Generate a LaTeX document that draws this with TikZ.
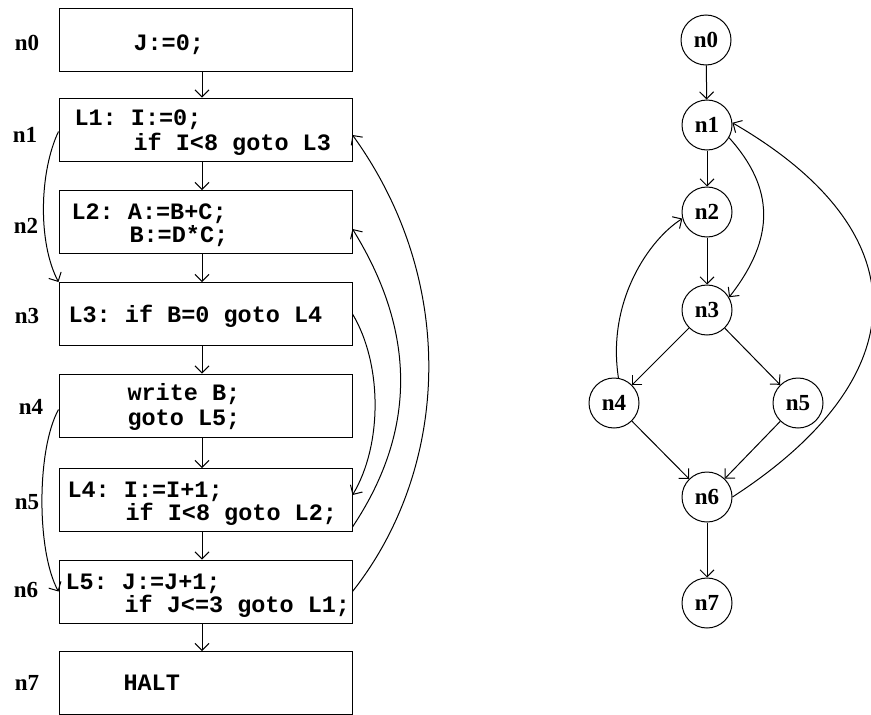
\documentclass[tikz,border=0pt]{standalone}
\usepackage{fontspec}
\setmainfont{Liberation Serif}
\setmonofont{Liberation Mono}
\usetikzlibrary{arrows.meta}
\begin{document}
\begin{tikzpicture}[x=1pt,y=-1pt, line width=1pt,
  >={Straight Barb[length=7pt,width=14pt]},
  blk/.style={draw, rectangle, minimum width=293pt, minimum height=63pt, inner sep=0pt},
  code/.style={anchor=base west, inner sep=0pt, font=\ttfamily\bfseries\fontsize{23.5}{25}\selectfont},
  lab/.style={font=\bfseries\fontsize{23}{25}\selectfont, inner sep=0pt},
  cir/.style={draw, circle, minimum size=50pt, inner sep=0pt, font=\bfseries\fontsize{23}{25}\selectfont},
  flow/.style={->}
]
\useasboundingbox (0,0) rectangle (871,715);

% ---- left: code blocks ----
\node[blk] (b0) at (205.5,39.5) {};
\node[blk] (b1) at (205.5,129.5) {};
\node[blk] (b2) at (205.5,222) {};
\node[blk] (b3) at (205.5,314) {};
\node[blk] (b4) at (205.5,405.5) {};
\node[blk] (b5) at (205.5,500) {};
\node[blk] (b6) at (205.5,591.5) {};
\node[blk] (b7) at (205.5,683) {};

\node[code] (t0)  at (133,50)  {J:=0;};
\node[code] (t1a) at (74,125)  {L1: I:=0;};
\node[code] (t1b) at (133,150) {if I<8 goto L3};
\node[code] (t2a) at (71,219)  {L2: A:=B+C;};
\node[code] (t2b) at (129,242) {B:=D*C;};
\node[code] (t3)  at (68,322)  {L3: if B=0 goto L4};
\node[code] (t4a) at (127,400) {write B;};
\node[code] (t4b) at (127,425) {goto L5;};
\node[code] (t5a) at (67,497)  {L4: I:=I+1;};
\node[code] (t5b) at (125,520) {if I<8 goto L2;};
\node[code] (t6a) at (65,589)  {L5: J:=J+1;};
\node[code] (t6b) at (124,612) {if J<=3 goto L1;};
\node[code] (t7)  at (123,690) {HALT};

\node[lab] (l0) at (27,43)  {n0};
\node[lab] (l1) at (25,135) {n1};
\node[lab] (l2) at (26,226) {n2};
\node[lab] (l3) at (27,316) {n3};
\node[lab] (l4) at (31,407) {n4};
\node[lab] (l5) at (27,502) {n5};
\node[lab] (l6) at (26,590) {n6};
\node[lab] (l7) at (27,683) {n7};

\foreach \a/\b in {b0/b1,b1/b2,b2/b3,b3/b4,b4/b5,b5/b6,b6/b7}
  \draw[flow] ([xshift=-3.5pt]\a.south) -- ([xshift=-3.5pt]\b.north);

% left-side jumps
\draw[flow] ([yshift=-2pt]b1.west) .. controls +(-19,40) and +(-21,-40) .. (b3.north west);
\draw[flow] ([yshift=-4pt]b4.west) .. controls +(-22,40) and +(-22,-40) .. (b6.west);
% right-side jumps
\draw[flow] (b3.east) .. controls +(30,50) and +(30,-50) .. ([yshift=5pt]b5.east);
\draw[flow] ([yshift=5pt]b5.south east) .. controls +(60,-90) and +(68,110) .. ([yshift=-7pt]b2.east);
\draw[flow] (b6.east) .. controls +(95,-120) and +(108,150) .. ([yshift=-5.5pt]b1.east);

% ---- right: flow graph ----
\node[cir] (c0) at (706,40)  {n0};
\node[cir] (c1) at (707,125) {n1};
\node[cir] (c2) at (707,212) {n2};
\node[cir] (c3) at (707,310) {n3};
\node[cir] (c4) at (614,403) {n4};
\node[cir] (c5) at (798,403) {n5};
\node[cir] (c6) at (707,497) {n6};
\node[cir] (c7) at (707,603) {n7};

\foreach \a/\b in {c0/c1,c1/c2,c2/c3,c3/c4,c3/c5,c4/c6,c5/c6,c6/c7}
  \draw[flow] (\a) -- (\b);

\draw[flow] (c1.-30) .. controls +(45,50) and +(47,-60) .. (c3.30);
\draw[flow] (c4.80) .. controls +(-12,-78) and +(-32,20) .. (c2.195);
\draw[flow] (c6.0) .. controls +(185,-120) and +(190,110) .. (c1.5);
\end{tikzpicture}
\end{document}
